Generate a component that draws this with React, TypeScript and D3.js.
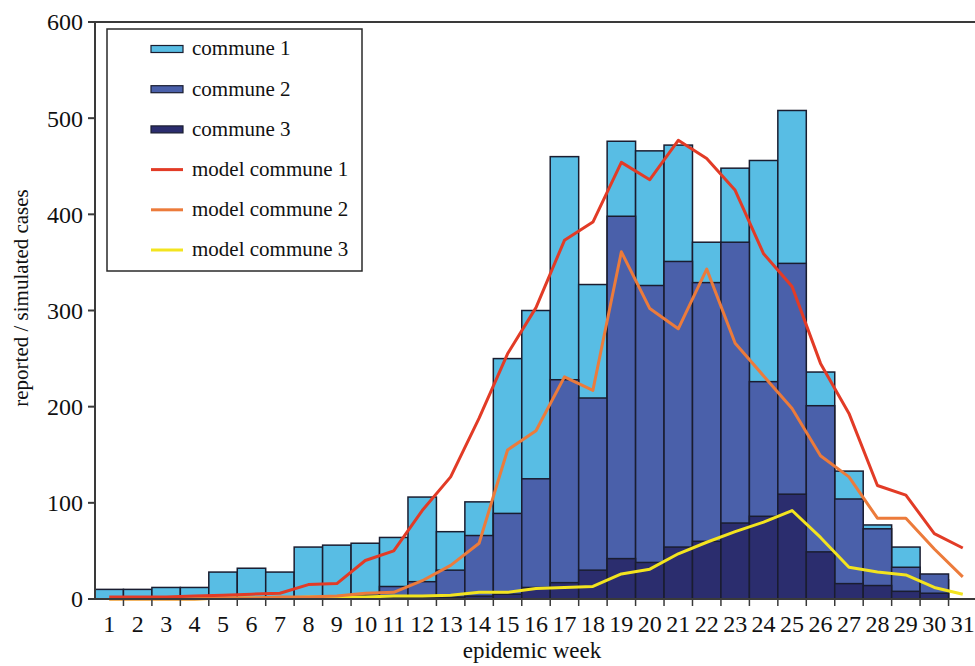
import React from "react";
import * as d3 from "d3";

const weeks = [1,2,3,4,5,6,7,8,9,10,11,12,13,14,15,16,17,18,19,20,21,22,23,24,25,26,27,28,29,30,31];
const commune1 = [10,10,12,12,28,32,28,54,56,58,64,106,70,101,250,300,460,327,476,466,472,371,448,456,508,236,133,77,54,20,0];
const commune2 = [0,0,0,0,0,0,0,0,0,4,13,18,30,66,89,125,228,209,398,326,351,329,371,226,349,201,104,73,33,26,0];
const commune3 = [0,0,0,0,0,0,0,0,0,1,2,2,2,3,5,12,17,30,42,38,54,60,79,86,109,49,16,14,8,6,0];
const model1 = [2,2,2,3,4,5,6,15,16,40,50,92,127,188,255,303,373,392,454,436,477,458,425,359,325,245,193,118,108,68,53];
const model2 = [0,0,0,0,1,1,2,2,3,6,7,19,35,58,155,175,231,217,361,302,281,343,266,232,198,149,127,84,84,52,23];
const model3 = [0,0,0,0,1,1,1,2,2,2,3,3,4,7,7,11,12,13,26,31,47,59,70,80,92,64,33,28,25,12,5];
const yTicks = [0,100,200,300,400,500,600];

const barColors = ["#58bde4", "#4a60aa", "#2b2d6e"];
const lineColors = ["#e23b26", "#ec7b3b", "#f3e41f"];
const legendItems = [
  { label: "commune 1", type: "bar", color: barColors[0] },
  { label: "commune 2", type: "bar", color: barColors[1] },
  { label: "commune 3", type: "bar", color: barColors[2] },
  { label: "model commune 1", type: "line", color: lineColors[0] },
  { label: "model commune 2", type: "line", color: lineColors[1] },
  { label: "model commune 3", type: "line", color: lineColors[2] },
];

const W = 975, H = 666;
const FONT = "'Liberation Serif', 'Times New Roman', serif";
const AXIS = "#3a3a3a";

export default function App() {
  const x = d3.scaleBand<number>().domain(weeks).range([95, 977]).padding(0);
  const y = d3.scaleLinear().domain([0, 600]).range([599, 22]);
  const bw = x.bandwidth();
  const barSeries = [commune1, commune2, commune3];
  const lineSeries = [model3, model2, model1];
  const lineCols = [lineColors[2], lineColors[1], lineColors[0]];
  const line = d3.line<number>()
    .x((_, i) => (x(weeks[i]) as number) + bw / 2)
    .y((d) => y(d));

  return (
    <svg width={W} height={H} style={{ position: "absolute", left: 0, top: 0, background: "#fff" }} fontFamily={FONT}>
      {/* bars */}
      {barSeries.map((s, si) => (
        <g key={si}>
          {s.map((v, i) =>
            v > 0 ? (
              <rect key={i} x={x(weeks[i])} y={y(v)} width={bw} height={y(0) - y(v)}
                fill={barColors[si]} stroke="#1a1d30" strokeWidth={1.5} />
            ) : null
          )}
        </g>
      ))}
      {/* model lines */}
      {lineSeries.map((s, si) => (
        <path key={si} d={line(s) || ""} fill="none" stroke={lineCols[si]} strokeWidth={3} strokeLinejoin="round" />
      ))}
      {/* axes */}
      <line x1={95} y1={22} x2={95} y2={599} stroke={AXIS} strokeWidth={2} />
      <line x1={95} y1={22} x2={975} y2={22} stroke={AXIS} strokeWidth={2} />
      <line x1={95} y1={599} x2={975} y2={599} stroke={AXIS} strokeWidth={2} />
      {yTicks.map((t) => (
        <g key={t}>
          <line x1={88} x2={95} y1={y(t)} y2={y(t)} stroke={AXIS} strokeWidth={2} />
          <text x={83} y={y(t)} dy="0.35em" textAnchor="end" fontSize={24} fill="#111">{t}</text>
        </g>
      ))}
      {weeks.map((w) => (
        <g key={w}>
          <line x1={(x(w) as number) + bw} x2={(x(w) as number) + bw} y1={599} y2={606} stroke={AXIS} strokeWidth={1.5} />
          <text x={(x(w) as number) + bw / 2} y={632} textAnchor="middle" fontSize={24} fill="#111">{w}</text>
        </g>
      ))}
      <text x={532} y={658} textAnchor="middle" fontSize={23} fill="#111">epidemic week</text>
      <text transform={`translate(28,298) rotate(-90)`} textAnchor="middle" fontSize={21} fill="#111">reported / simulated cases</text>
      {/* legend */}
      <rect x={107} y={29} width={255} height={242} fill="#fff" stroke="#2a2a2a" strokeWidth={1.5} />
      {legendItems.map((it, i) => {
        const cy = 49 + i * 40.2;
        return (
          <g key={it.label}>
            {it.type === "bar" ? (
              <rect x={151} y={cy - 3.5} width={32} height={7} fill={it.color} stroke="#1a1d30" strokeWidth={1.2} />
            ) : (
              <line x1={151} x2={183} y1={cy} y2={cy} stroke={it.color} strokeWidth={3} />
            )}
            <text x={192} y={cy} dy="0.3em" fontSize={21} fill="#111">{it.label}</text>
          </g>
        );
      })}
    </svg>
  );
}
